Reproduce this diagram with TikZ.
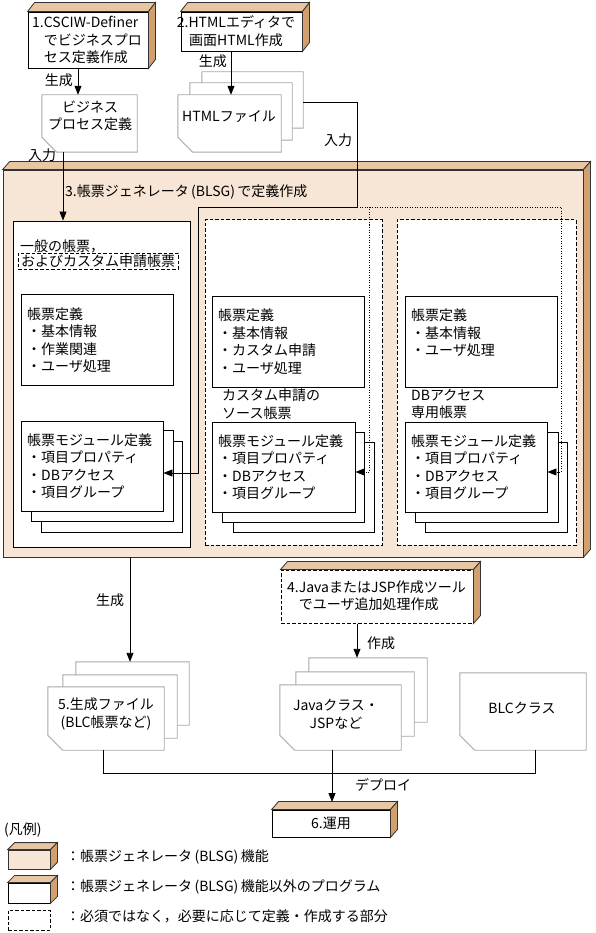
\documentclass[tikz,border=0pt]{standalone}
\usepackage{fontspec}
\setmainfont{Noto Sans CJK JP}
\usetikzlibrary{arrows.meta,fit,calc}
\definecolor{beige}{HTML}{F7E6D6}
\definecolor{tanTop}{HTML}{E8C6A4}
\definecolor{tanSide}{HTML}{D2A06E}
\definecolor{docGray}{HTML}{A8A8A8}
\tikzset{
 rbox/.style={draw=black, line width=0.9pt, fill=white, inner sep=0pt},
 dbox/.style={draw=black, line width=1pt, dash pattern=on 3.5pt off 2pt, inner sep=0pt},
 frame/.style={inner sep=0pt},
 docst/.style={draw=docGray, line width=0.9pt, fill=white},
 topface/.style={fill=tanTop, draw=black!80, line width=0.8pt},
 sideface/.style={fill=tanSide, draw=black!80, line width=0.8pt},
 txt/.style={inner sep=0pt, anchor=west, align=left, font=\fontsize{14}{17.5}\selectfont},
 ctxt/.style={inner sep=0pt, align=center, font=\fontsize{14}{17.5}\selectfont},
 conn/.style={draw=black, line width=0.9pt},
 arr/.style={conn, -{Triangle[length=9pt,width=7pt]}},
 dotc/.style={draw=black, line width=0.9pt, dash pattern=on 1pt off 1.5pt},
 darr/.style={dotc, -{Triangle[length=9pt,width=7pt]}},
}
\newcommand\threed[3]{%
 \filldraw[topface] (#1.north west) -- ([shift={(#2pt,#3pt)}]#1.north west) -- ([shift={(#2pt,#3pt)}]#1.north east) -- (#1.north east) -- cycle;
 \filldraw[sideface] (#1.north east) -- ([shift={(#2pt,#3pt)}]#1.north east) -- ([shift={(#2pt,#3pt)}]#1.south east) -- (#1.south east) -- cycle;}
\newcommand\docshape[1]{%
 \draw[docst] (#1.north west) -- (#1.north east) -- (#1.south east) -- ([xshift=15pt]#1.south west) -- ([yshift=15pt]#1.south west) -- cycle;}
\begin{document}
\begin{tikzpicture}[x=1pt,y=-1pt]
\useasboundingbox (0,0) rectangle (595,933);
\fill[white] (0,0) rectangle (595,933);

% ---- top boxes
\node[rbox, fit={(28,12) (148,68)}] (b1) {};
\threed{b1}{7}{9}
\node[txt] (t1) at (32,40) {1.CSCIW-Definer\\\phantom{1.}でビジネスプロ\\\phantom{1.}セス定義作成};
\node[rbox, fit={(181,12) (302,51)}] (b2) {};
\threed{b2}{7}{9}
\node[ctxt] (t2) at (236,31) {2.HTMLエディタで\\画面HTML作成};

% ---- documents
\node[frame, fit={(42,95) (137,152)}] (bizdoc) {};
\docshape{bizdoc}
\node[ctxt] (tbiz) at (90,116) {ビジネス\\プロセス定義};

\node[frame, fit={(202,72) (303,128)}] (h3) {};
\node[frame, fit={(190,83) (292,140)}] (h2) {};
\node[frame, fit={(178,95) (281,152)}] (h1) {};
\docshape{h3}\docshape{h2}\docshape{h1}
\node[ctxt] (th) at (229,117) {HTMLファイル};

% ---- big box 3
\node[frame, fill=beige, draw=black!80, line width=0.8pt, fit={(3,170) (583,557)}] (big) {};
\threed{big}{7}{8}
\node[txt] (t3) at (65,192) {3.帳票ジェネレータ\,(BLSG)\,で定義作成};

% left panel
\node[rbox, fit={(13,221) (190,547)}] (lp) {};
\node[txt] (tlp) at (20,246) {一般の帳票，};
\node[dbox, fit={(18,253) (178,269)}] (ldash) {};
\node[ctxt] (tld) at (98,261) {およびカスタム申請帳票};
\node[rbox, fit={(21,294) (173,385)}] (ldef) {};
\node[txt] (tldef) at (27,340) {帳票定義\\・基本情報\\・作業関連\\・ユーザ処理};
\node[rbox, fit={(41,441) (182,532)}] (lm3) {};
\node[rbox, fit={(31,430) (173,521)}] (lm2) {};
\node[rbox, fit={(21,421) (163,511)}] (lm1) {};
\node[txt] (tlm) at (27,466) {帳票モジュール定義\\・項目プロパティ\\・DBアクセス\\・項目グループ};

% middle panel
\node[dbox, fill=white, fit={(205,220) (382,545)}] (md) {};
\node[rbox, fit={(212,296) (364,387)}] (mdef) {};
\node[txt] (tmdef) at (218,341.5) {帳票定義\\・基本情報\\・カスタム申請\\・ユーザ処理};
\node[txt] (tmlab) at (222,404) {カスタム申請の\\ソース帳票};
\node[rbox, fit={(233,442) (374,532)}] (mm3) {};
\node[rbox, fit={(222,432) (364,522)}] (mm2) {};
\node[rbox, fit={(212,422) (355,512)}] (mm1) {};
\node[txt] (tmm) at (218,467) {帳票モジュール定義\\・項目プロパティ\\・DBアクセス\\・項目グループ};

% right panel
\node[dbox, fill=white, fit={(397,220) (576,545)}] (rd) {};
\node[rbox, fit={(405,296) (557,387)}] (rdef) {};
\node[txt] (trdef) at (411,333) {帳票定義\\・基本情報\\・ユーザ処理};
\node[txt] (trlab) at (411,404) {DBアクセス\\専用帳票};
\node[rbox, fit={(425,442) (567,532)}] (rm3) {};
\node[rbox, fit={(415,432) (558,522)}] (rm2) {};
\node[rbox, fit={(405,422) (547,512)}] (rm1) {};
\node[txt] (trm) at (411,467) {帳票モジュール定義\\・項目プロパティ\\・DBアクセス\\・項目グループ};

% ---- lower part
\node[frame, fit={(76,662) (189,725)}] (g3) {};
\node[frame, fit={(63,675) (177,738)}] (g2) {};
\node[frame, fit={(48,687) (164,750)}] (g1) {};
\docshape{g3}\docshape{g2}\docshape{g1}
\node[ctxt] (tg) at (106,714) {5.生成ファイル\\(BLC帳票など)};

\node[dbox, fill=white, fit={(281,570) (473,623)}] (b4) {};
\threed{b4}{7}{8}
\node[txt] (t4) at (287,595.5) {4.JavaまたはJSP作成ツール\\\phantom{4.}でユーザ追加処理作成};

\node[frame, fit={(309,658) (427,722)}] (j3) {};
\node[frame, fit={(296,672) (414,736)}] (j2) {};
\node[frame, fit={(280,685) (401,750)}] (j1) {};
\docshape{j3}\docshape{j2}\docshape{j1}
\node[ctxt] (tj) at (336,714) {Javaクラス・\\JSPなど};

\node[frame, fit={(460,673) (586,750)}] (blc) {};
\docshape{blc}
\node[ctxt] (tblc) at (522,708) {BLCクラス};

\node[rbox, fit={(272,810) (390,837)}] (b6) {};
\threed{b6}{7}{8}
\node[ctxt] (t6) at (331,823) {6.運用};

% ---- connectors
\coordinate (xA) at (78,0);
\coordinate (xB) at (231,0);
\coordinate (xD) at (63,0);
\coordinate (xE) at (130,0);
\coordinate (xF) at (357,0);
\draw[arr] (b1.south -| xA) -- (bizdoc.north -| xA);
\draw[arr] (b2.south -| xB) -- (h1.north -| xB);
\draw[arr] (bizdoc.south -| xD) -- (lp.north -| xD);
\coordinate (k1) at (357,102);
\coordinate (k2) at (357,207);
\coordinate (k3) at (198,207);
\coordinate (k4) at (198,473);
\draw[arr] (h3.east |- k1) -- (k1) -- (k2) -- (k3) -- (k4) -- (lm1.east |- k4);
\coordinate (k5) at (561,207);
\coordinate (k6) at (561,472);
\coordinate (k7) at (369,207);
\coordinate (k8) at (369,472);
\draw[darr] (k2) -- (k5) -- (k6) -- (rm1.east |- k6);
\draw[darr] (k7) -- (k8) -- (mm1.east |- k8);
\draw[arr] (big.south -| xE) -- (g3.north -| xE);
\draw[arr] (b4.south -| xF) -- (j3.north -| xF);
\coordinate (d1) at (103,773);
\coordinate (d2) at (535,773);
\coordinate (d3) at (332,773);
\coordinate (d4) at (332,802);
\draw[conn] (g1.south -| d1) -- (d1) -- (d2) -- (blc.south -| d2);
\draw[arr] (j1.south -| d3) -- (d4);

% ---- connector labels
\node[txt, anchor=east] (gen1) at (73,80) {生成};
\node[txt, anchor=east] (gen2) at (227,61) {生成};
\node[ctxt] (in1) at (42,155) {入力};
\node[ctxt] (in2) at (338,140) {入力};
\node[ctxt] (gen3) at (110,600) {生成};
\node[txt] (mk) at (367,643) {作成};
\node[txt] (dep) at (355,785) {デプロイ};

% ---- legend
\node[txt] (lgt) at (4,830) {(凡例)};
\node[frame, fill=beige, draw=black!80, line width=0.8pt, fit={(8,850) (50,869)}] (L1) {};
\threed{L1}{7}{7}
\node[rbox, fit={(8,883) (50,903)}] (L2) {};
\threed{L2}{7}{7}
\node[dbox, fit={(8,910) (50,930)}] (L3) {};
\node[txt] (lg1) at (66,857) {：帳票ジェネレータ\,(BLSG)\,機能};
\node[txt] (lg2) at (66,887) {：帳票ジェネレータ\,(BLSG)\,機能以外のプログラム};
\node[txt] (lg3) at (66,916) {：必須ではなく，必要に応じて定義・作成する部分};
\end{tikzpicture}
\end{document}
